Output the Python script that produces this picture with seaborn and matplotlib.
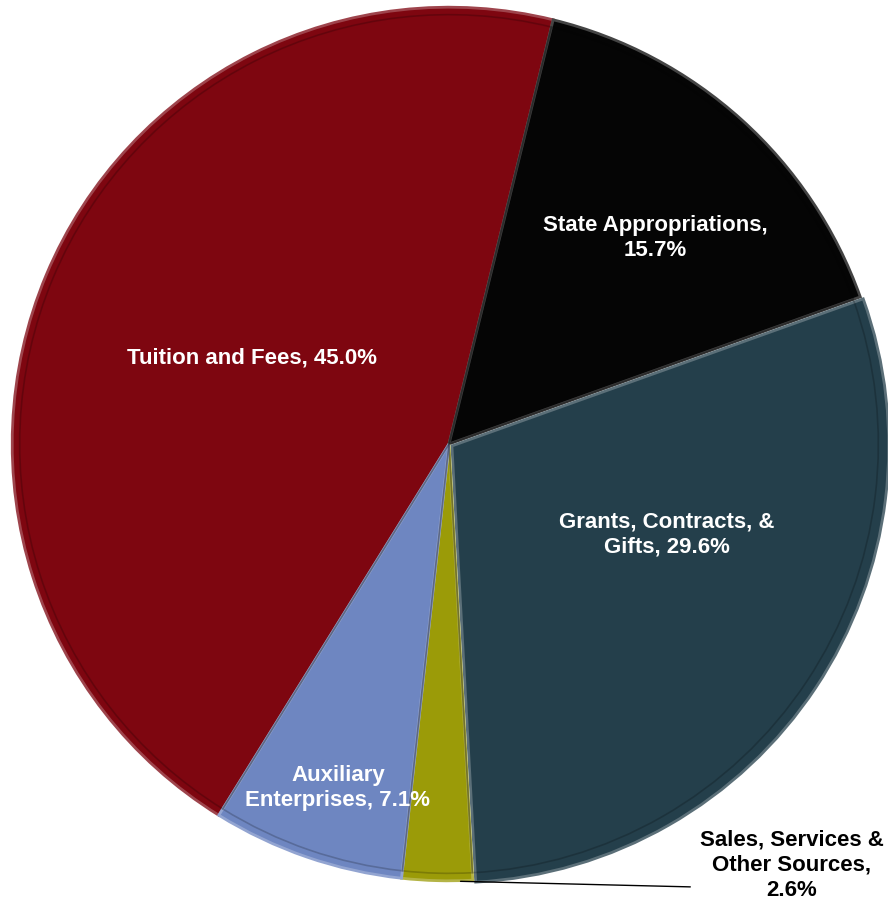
import numpy as np
import matplotlib
matplotlib.use("Agg")
import matplotlib.pyplot as plt
import matplotlib.colors as mcolors
import seaborn as sns

# revenue sources, share in percent
categories = ["Tuition and Fees", "State Appropriations", "Grants, Contracts, &\nGifts",
              "Sales, Services &\nOther Sources,", "Auxiliary\nEnterprises"]
shares = [45.0, 15.7, 29.6, 2.6, 7.1]
colors = ["#7E0610", "#050505", "#243F4B", "#9B9B08", "#6E86C1"]

sns.set_style("white")
plt.rcParams['font.family'] = ['Liberation Sans', 'DejaVu Sans']

fig = plt.figure(figsize=(8.88, 9.01), dpi=100)
ax = fig.add_axes([10 / 888, 18 / 901, 878 / 888, 878 / 901])


def tint(c, amount):
    rgb = np.array(mcolors.to_rgb(c))
    return tuple(rgb + (1 - rgb) * amount)


# lighter rim colours to fake the bevel look
rims = [tint(c, 0.25) for c in colors]

wedges, _ = ax.pie(shares, colors=colors, startangle=238.2, counterclock=False,
                   explode=[0, 0, 0.008, 0, 0], radius=0.995,
                   wedgeprops=dict(linewidth=0))
for w, r in zip(wedges, rims):
    w.set_edgecolor(r)
    w.set_linewidth(2)

# inner shadow ring for depth
ax.pie(shares, colors=["none"] * 5, startangle=238.2, counterclock=False, radius=0.978,
       wedgeprops=dict(linewidth=1.2, edgecolor=(0, 0, 0, 0.2), fill=False))

txt = dict(color="white", fontsize=16, fontweight="bold", ha="center", va="center",
           linespacing=1.25)
ax.text(-0.449, 0.196, f"{categories[0]}, {shares[0]:.1f}%", **txt)
ax.text(0.469, 0.469, f"{categories[1]},\n{shares[1]:.1f}%", **txt)
ax.text(0.497, -0.207, f"{categories[2]}, {shares[2]:.1f}%", **txt)
ax.text(-0.253, -0.784, f"{categories[4]}, {shares[4]:.1f}%", **txt)

ax.text(0.781, -0.959, f"{categories[3]}\n{shares[3]:.1f}%", color="black", fontsize=16,
        fontweight="bold", ha="center", va="center", linespacing=1.25)
ax.annotate("", xy=(0.02, -0.996), xytext=(0.556, -1.009),
            arrowprops=dict(arrowstyle="-", color="black", lw=1))

ax.set_xlim(-1, 1)
ax.set_ylim(-1, 1)
ax.set_aspect("equal")
ax.axis("off")

fig.savefig("out.png", dpi=100)
